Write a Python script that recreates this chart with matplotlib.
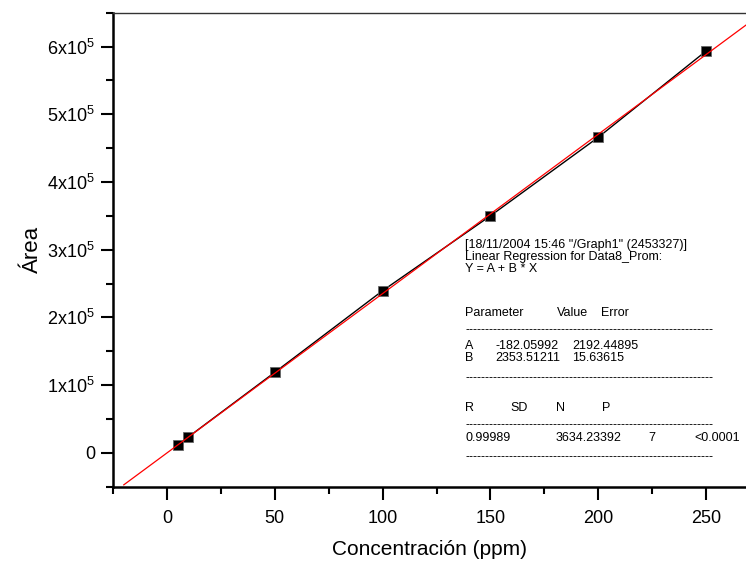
import numpy as np
import matplotlib
matplotlib.use("Agg")
import matplotlib.pyplot as plt
from matplotlib.ticker import MultipleLocator, FixedLocator, FixedFormatter

plt.rcParams["font.family"] = ["Liberation Sans", "DejaVu Sans"]
plt.rcParams["mathtext.default"] = "regular"

# datos de calibración
conc = [5, 10, 50, 100, 150, 200, 250]
area = [11200, 23600, 118900, 239400, 350000, 466000, 593400]

# parámetros del ajuste lineal
A = -182.05992
B = 2353.51211
fit_range = [-20, 275]

yticks = [0, 100000, 200000, 300000, 400000, 500000, 600000]
ylabels = ["0"] + ["%dx10$^5$" % i for i in range(1, 7)]
xticks = [0, 50, 100, 150, 200, 250]

W, H = 746, 563
fig = plt.figure(figsize=(W / 100, H / 100), dpi=100)
ax = fig.add_axes([113 / W, (H - 486.7) / H, 1 - 113 / W, (486.7 - 12.7) / H])

xf = np.array(fit_range)
ax.plot(conc, area, color="black", lw=1.0, zorder=2)
ax.plot(conc, area, ls="none", marker="s", ms=7.2, mfc="black", mec="#666666",
        mew=0.6, zorder=3)
ax.plot(xf, A + B * xf, color="red", lw=0.9, zorder=4)

ax.set_xlim(-25, 268.5)
ax.set_ylim(-50000, 650000)

ax.xaxis.set_major_locator(FixedLocator(xticks))
ax.xaxis.set_minor_locator(MultipleLocator(25))
ax.yaxis.set_major_locator(FixedLocator(yticks))
ax.yaxis.set_major_formatter(FixedFormatter(ylabels))
ax.yaxis.set_minor_locator(MultipleLocator(50000))

ax.tick_params(which="major", direction="out", length=9, width=1.5, labelsize=13)
ax.tick_params(axis="x", which="major", pad=8)
ax.tick_params(axis="y", which="major", pad=4)
ax.tick_params(which="minor", direction="out", length=5, width=1.5)
ax.tick_params(top=False, right=False, which="both")

for s in ("left", "bottom"):
    ax.spines[s].set_linewidth(1.8)
ax.spines["top"].set_linewidth(1.0)
ax.spines["top"].set_color("#333333")
ax.spines["right"].set_visible(False)

ax.set_xlabel("Concentración (ppm)", fontsize=15, labelpad=9)
ax.set_ylabel("Área", fontsize=16, labelpad=3)

# tabla de resultados de la regresión
dashes = "-" * 62
rows = [
    (245, [(465, '[18/11/2004 15:46 "/Graph1" (2453327)]')]),
    (257, [(465, "Linear Regression for Data8_Prom:")]),
    (269, [(465, "Y = A + B * X")]),
    (313, [(465, "Parameter"), (557, "Value"), (601, "Error")]),
    (330, [(465, dashes)]),
    (346, [(465, "A"), (495, "%.5f" % A), (572, "2192.44895")]),
    (358, [(465, "B"), (495, "%.5f" % B), (572, "15.63615")]),
    (378, [(465, dashes)]),
    (408, [(465, "R"), (510, "SD"), (556, "N"), (602, "P")]),
    (425, [(465, dashes)]),
    (438, [(465, "0.99989"), (556, "3634.23392"), (648, "7"), (694, "<0.0001")]),
    (457, [(465, dashes)]),
]
for ypx, cells in rows:
    for xpx, txt in cells:
        fig.text(xpx / W, 1 - ypx / H, txt, fontsize=9, ha="left", va="center")

fig.savefig("out.png", dpi=100)
